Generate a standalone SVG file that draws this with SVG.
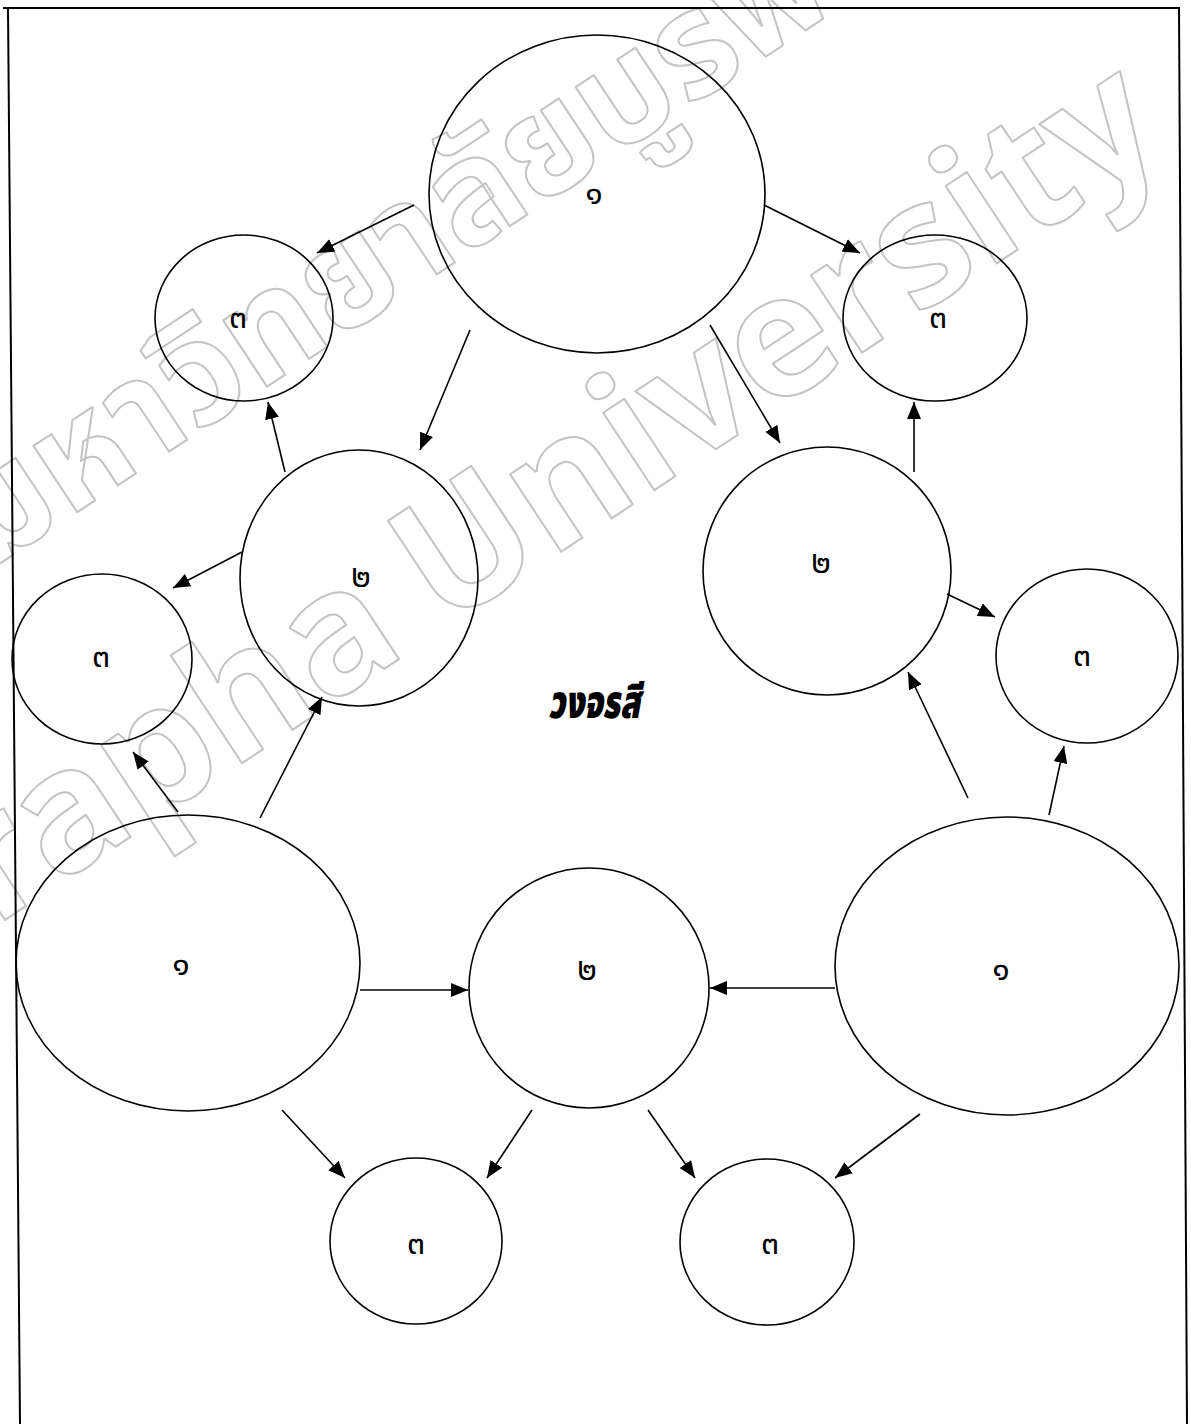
<svg xmlns="http://www.w3.org/2000/svg" width="1191" height="1424" viewBox="0 0 1191 1424">
<style>
.node{fill:none;stroke:#000;stroke-width:1.6}
.lbl{font-family:"Noto Sans Thai","Noto Sans","DejaVu Sans",sans-serif;font-size:32px;fill:#000;text-anchor:middle;dominant-baseline:central}
.edge{stroke:#000;stroke-width:1.6;fill:none;marker-end:url(#ah)}
.wm{font-family:"Noto Sans Thai","Liberation Sans","Noto Sans",sans-serif;font-weight:bold;fill:none;stroke:#c4c4c4;stroke-width:2;stroke-linejoin:round}
</style>
<defs>
<marker id="ah" markerUnits="userSpaceOnUse" markerWidth="18" markerHeight="14" refX="17" refY="7" orient="auto">
<path d="M0,0 L17,7 L0,14 z" fill="#000"/>
</marker>
</defs>
<rect width="1191" height="1424" fill="#fff"/>
<g id="watermark">
<g transform="translate(443,630) rotate(-33.5)">
<text class="wm" x="-345" y="-300" font-size="145">มหาวิทยาลัยบูรพา</text>
<text class="wm" x="-40" y="0" font-size="170" text-anchor="end">Burapha</text>
<text class="wm" x="0" y="0" font-size="170">University</text>
</g>
</g>
<g id="frame" stroke="#000" stroke-width="2" fill="none">
<line x1="3" y1="8" x2="1180" y2="8"/>
<line x1="8" y1="8" x2="20" y2="1424"/>
<line x1="1179" y1="8" x2="1187" y2="1424"/>
</g>
<g id="edges">
<line class="edge" x1="414" y1="205" x2="317" y2="253"/>
<line class="edge" x1="764" y1="205" x2="860" y2="253"/>
<line class="edge" x1="470" y1="330" x2="420" y2="450"/>
<line class="edge" x1="710" y1="325" x2="780" y2="443"/>
<line class="edge" x1="285" y1="472" x2="268" y2="402"/>
<line class="edge" x1="914" y1="472" x2="914" y2="402"/>
<line class="edge" x1="242" y1="552" x2="173" y2="588"/>
<line class="edge" x1="947" y1="594" x2="995" y2="617"/>
<line class="edge" x1="178" y1="812" x2="133" y2="752"/>
<line class="edge" x1="260" y1="818" x2="322" y2="697"/>
<line class="edge" x1="968" y1="798" x2="908" y2="672"/>
<line class="edge" x1="1049" y1="815" x2="1064" y2="746"/>
<line class="edge" x1="360" y1="990" x2="468" y2="990"/>
<line class="edge" x1="835" y1="988" x2="710" y2="988"/>
<line class="edge" x1="282" y1="1110" x2="345" y2="1178"/>
<line class="edge" x1="532" y1="1110" x2="487" y2="1178"/>
<line class="edge" x1="648" y1="1110" x2="695" y2="1178"/>
<line class="edge" x1="920" y1="1114" x2="835" y2="1178"/>
</g>
<g id="n1top"><ellipse class="node" cx="597" cy="194" rx="168" ry="159"/><text class="lbl" x="594" y="194">๑</text></g>
<g id="n3topleft"><ellipse class="node" cx="244" cy="318" rx="89" ry="83"/><text class="lbl" x="238" y="318">๓</text></g>
<g id="n3topright"><ellipse class="node" cx="935" cy="318" rx="92" ry="83"/><text class="lbl" x="938" y="318">๓</text></g>
<g id="n2left"><ellipse class="node" cx="359" cy="578" rx="119" ry="128"/><text class="lbl" x="361" y="577">๒</text></g>
<g id="n2right"><ellipse class="node" cx="827" cy="571" rx="124" ry="124"/><text class="lbl" x="821" y="563">๒</text></g>
<g id="n3farleft"><ellipse class="node" cx="102" cy="659" rx="90" ry="85"/><text class="lbl" x="101" y="657">๓</text></g>
<g id="n3farright"><ellipse class="node" cx="1087" cy="656" rx="91" ry="87"/><text class="lbl" x="1082" y="656">๓</text></g>
<g id="n1botleft"><ellipse class="node" cx="188" cy="963" rx="172" ry="148"/><text class="lbl" x="181" y="965">๑</text></g>
<g id="n2botcenter"><ellipse class="node" cx="589" cy="988" rx="120" ry="120"/><text class="lbl" x="587" y="970">๒</text></g>
<g id="n1botright"><ellipse class="node" cx="1007" cy="966" rx="172" ry="149"/><text class="lbl" x="1001" y="970">๑</text></g>
<g id="n3botleft"><ellipse class="node" cx="416" cy="1241" rx="86" ry="83"/><text class="lbl" x="416" y="1244">๓</text></g>
<g id="n3botright"><ellipse class="node" cx="767" cy="1242" rx="87" ry="83"/><text class="lbl" x="770" y="1244">๓</text></g>
<g id="title"><text x="594" y="718" font-family="'Noto Sans Thai','Noto Sans',sans-serif" font-size="46" font-weight="900" font-style="italic" text-anchor="middle" textLength="92" lengthAdjust="spacingAndGlyphs">วงจรสี</text></g>
</svg>
